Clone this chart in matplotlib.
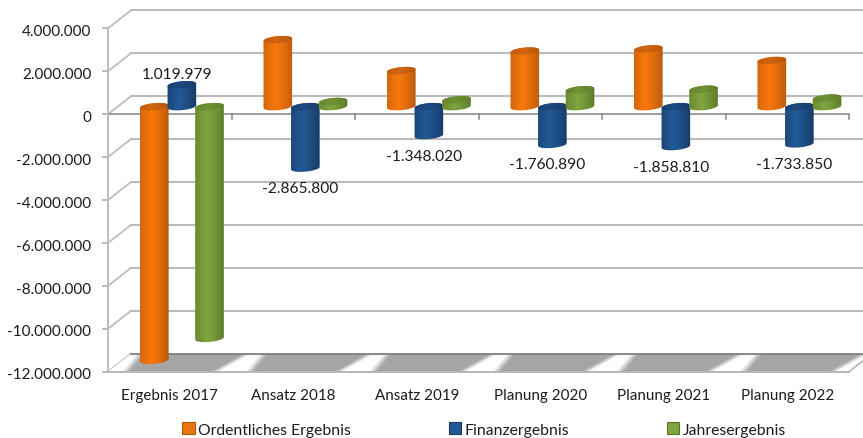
import numpy as np
import matplotlib
matplotlib.use("Agg")
import matplotlib.pyplot as plt
from matplotlib.patches import Polygon, Patch
from matplotlib.colors import to_rgb
from matplotlib.transforms import ScaledTranslation

categories = ["Ergebnis 2017", "Ansatz 2018", "Ansatz 2019", "Planung 2020", "Planung 2021", "Planung 2022"]
ordentlich = [-11820000, 3120000, 1680000, 2590000, 2690000, 2150000]
finanz = [1019979, -2865800, -1348020, -1760890, -1858810, -1733850]
jahres = [-10800000, 240000, 320000, 790000, 810000, 400000]
series_names = ["Ordentliches Ergebnis", "Finanzergebnis", "Jahresergebnis"]
y_ticks = [4000000, 2000000, 0, -2000000, -4000000, -6000000, -8000000, -10000000, -12000000]

W, H = 863, 439
plt.rcParams["font.family"] = ["Lato", "DejaVu Sans"]
TXT = "#1c1c1c"
FS = 11.0

fig = plt.figure(figsize=(W / 100, H / 100), dpi=100, facecolor="white")
L, R, T, B = 108, 849, 29.3, 372.7
ax = fig.add_axes([L / W, 1 - B / H, (R - L) / W, (B - T) / H])
ax.set_facecolor("none")

XPX = (R - L) / 6
YPX = (B - T) / 16e6
px = lambda n: n / XPX
py = lambda n: n / YPX
DX, DY = px(23), py(18)
BASE = py(7.5)
X0, X1 = -0.5, 5.5
V0, V1 = -12e6, 4e6

# walls
for v in y_ticks:
    ax.plot([X0, X0 + DX], [v, v + DY], color="#bdbdbd", lw=1.3, clip_on=False, zorder=1)
    if v > V0:
        ax.plot([X0 + DX, X1 + DX], [v + DY, v + DY], color="#bababa", lw=1.5, clip_on=False, zorder=1)

# floor: grey with soft white diagonal bands at the category boundaries
fy, fx = np.mgrid[0:1:40j, 0:1:1000j]
xs = X0 + fx * (X1 - X0 + DX)
u = xs - (1 - fy) * DX
d = np.abs(((u + 0.5 + 0.5) % 1) - 0.5)
hw = 0.07 + 0.07 * fy
w = np.clip((hw + 0.045 - d) / 0.09, 0, 1)
w = w * w * (3 - 2 * w)
g = 0.65 + 0.35 * w
floor = ax.imshow(np.dstack([g, g, g]), extent=(X0, X1 + DX, V0, V0 + DY), aspect="auto", zorder=1.2,
                  interpolation="bilinear")
floor_poly = Polygon([(X0, V0), (X1, V0), (X1 + DX, V0 + DY), (X0 + DX, V0 + DY)], transform=ax.transData)
floor.set_clip_path(floor_poly)
floor.set_clip_box(fig.bbox)
ax.plot([X0 + DX, X1 + DX], [V0 + DY, V0 + DY], color="#808080", lw=1.3, clip_on=False, zorder=1.3)
ax.plot([X1, X1 + DX], [V0, V0 + DY], color="#b5b5b5", lw=1.2, clip_on=False, zorder=1.3)

# zero axis
ax.axhline(0, color="#8c8c8c", lw=1.2, zorder=2)
for x in np.arange(-0.5, 6):
    ax.plot([x, x], [0, -py(5)], color="#8c8c8c", lw=1.2, clip_on=False, zorder=2)


def gradient(c, edge, n=64):
    t = np.linspace(0, 1, n)
    s = np.clip(1 - np.abs(t - 0.42) / 0.58, 0, 1) ** 0.7
    base = np.array(to_rgb(edge))
    mid = np.array(to_rgb(c))
    return (base[None, :] * (1 - s[:, None]) + mid[None, :] * s[:, None])[None, :, :]


def ell(t, a=14.3, b=3.5, k=0.09):
    return a * np.cos(t), b * np.sin(t) + k * a * np.cos(t)


def cylinder(xc, v, main, edge, cap, capedge, z):
    top, bot = max(v, 0) + BASE, min(v, 0) + BASE
    tb = np.linspace(np.pi, 2 * np.pi, 40)
    tt = np.linspace(0, np.pi, 40)
    bx, by = ell(tb)
    ux, uy = ell(tt)
    xy = np.r_[np.c_[xc + px(bx), bot + py(by)], np.c_[xc + px(ux), top + py(uy)]]
    im = ax.imshow(gradient(main, edge), extent=(xc - px(15), xc + px(15), bot - py(6), top + py(6)),
                   aspect="auto", zorder=z, interpolation="bilinear")
    im.set_clip_path(Polygon(xy, transform=ax.transData))
    im.set_clip_box(fig.bbox)
    t = np.linspace(0, 2 * np.pi, 80)
    cx, cy = ell(t)
    xy2 = np.c_[xc + px(cx), top + py(cy)]
    im2 = ax.imshow(gradient(cap, capedge), extent=(xc - px(15), xc + px(15), top - py(6), top + py(6)),
                    aspect="auto", zorder=z + 0.1, interpolation="bilinear")
    im2.set_clip_path(Polygon(xy2, transform=ax.transData))
    im2.set_clip_box(fig.bbox)


styles = [
    (ordentlich, -0.125, "#f9780a", "#b3560e", "#d2650f", "#b0540c"),
    (finanz, 0.098, "#215a96", "#17375f", "#1c4a80", "#173a66"),
    (jahres, 0.322, "#80a53e", "#587428", "#6f9234", "#5c7a2a"),
]
for j, (vals, off, main, edge, cap, capedge) in enumerate(styles):
    for i, v in enumerate(vals):
        cylinder(i + off, v, main, edge, cap, capedge, 3 + j + i * 0.001)

ax.set_xlim(X0, X1)
ax.set_ylim(V0, V1)

# data labels
for i, v in enumerate(finanz):
    s = f"{v:,.0f}".replace(",", ".")
    dy = 11 if v > 0 else -20
    ax.annotate(s, (i + 0.098, v + BASE), xytext=(-5 * 0.72, dy * 0.72), textcoords="offset points",
                ha="center", va="center", fontsize=FS + 0.2, color=TXT, zorder=20, annotation_clip=False)

# axes
for s in ["top", "right"]:
    ax.spines[s].set_visible(False)
ax.spines["left"].set_color("#bdbdbd")
ax.spines["left"].set_linewidth(1.4)
ax.spines["bottom"].set_color("#b5b5b5")
ax.spines["bottom"].set_linewidth(1.4)
ax.set_yticks(y_ticks)
ax.set_yticklabels([f"{v:,.0f}".replace(",", ".") for v in y_ticks], fontsize=FS, color=TXT)
ax.set_xticks(range(6))
ax.set_xticklabels(categories, fontsize=10.9, color=TXT)
ax.tick_params(axis="y", length=4.5, width=1.1, color="#a8a8a8", pad=7.5)
ax.tick_params(axis="x", length=0, pad=11.5)
shift = ScaledTranslation(0, -1.2 / 100, fig.dpi_scale_trans)
for lab in ax.get_yticklabels():
    lab.set_transform(lab.get_transform() + shift)

handles = [Patch(facecolor=c, edgecolor=e, lw=0.8) for c, e in
           [("#e8760f", "#b3560e"), ("#215a96", "#17375f"), ("#80a53e", "#587428")]]
fig.legend(handles, series_names, loc="center", bbox_to_anchor=(484 / W, 1 - 430.5 / H), ncols=3, frameon=False,
           fontsize=11.35, labelcolor=TXT, handlelength=0.8, handleheight=0.8, handletextpad=0.2,
           columnspacing=6.2, borderpad=0, borderaxespad=0)

fig.savefig("out.png", dpi=100)
